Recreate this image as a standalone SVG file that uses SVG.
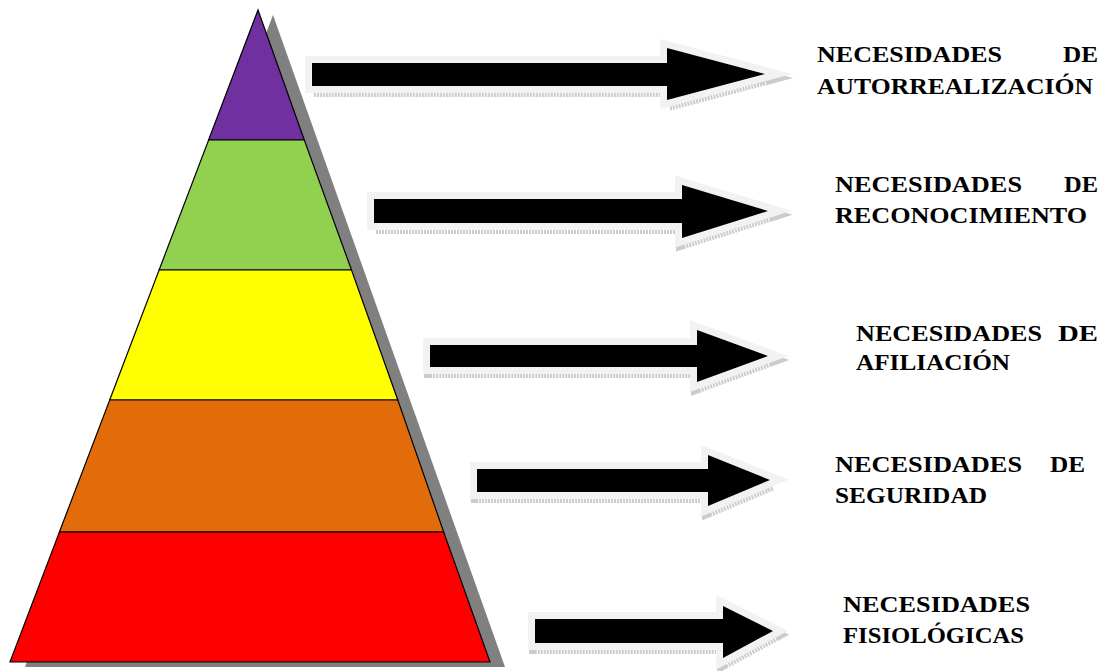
<svg xmlns="http://www.w3.org/2000/svg" width="1111" height="671" viewBox="0 0 1111 671">
<style>
.band{stroke:#000;stroke-width:1.2;stroke-linejoin:miter}
.shadow{fill:#808080}
.arr{fill:#000;stroke:#f2f2f2;stroke-width:14;stroke-linejoin:miter;stroke-miterlimit:10;paint-order:stroke}
.arrsh{fill:none;stroke:#cccccc;stroke-width:14;stroke-linejoin:miter;stroke-miterlimit:10;stroke-dasharray:2 1}
.lbl{font-family:"Liberation Serif","Times New Roman",serif;font-weight:bold;font-size:23px;fill:#000}
</style>
<rect width="1111" height="671" fill="#fff"/>
<g id="pyramid-shadow">
<polygon class="shadow" points="273,15 505,667 25,667"/>
</g>
<g id="level-autorrealizacion"><polygon class="band" fill="#7030A0" points="258,10 304.3,140 208.6,140"/></g>
<g id="level-reconocimiento"><polygon class="band" fill="#92D050" points="208.6,140 304.3,140 351.5,270 159.1,270"/></g>
<g id="level-afiliacion"><polygon class="band" fill="#FFFF00" points="159.1,270 351.5,270 397.8,400 109.7,400"/></g>
<g id="level-seguridad"><polygon class="band" fill="#E36C0A" points="109.7,400 397.8,400 443.7,532 59.4,532"/></g>
<g id="level-fisiologicas"><polygon class="band" fill="#FF0000" points="59.4,532 443.7,532 490,662 10,662"/></g>
<g id="connectors">
<g transform="translate(1,4)">
<polygon class="arrsh" points="312,63 667,63 667,48 765,74 667,100 667,86 312,86"/>
<polygon class="arrsh" points="374,199 682,199 682,185 768,211 682,238 682,223 374,223"/>
<polygon class="arrsh" points="430,345 697,345 697,330 768,356 697,382 697,367 430,367"/>
<polygon class="arrsh" points="477,469 708,469 708,455 770,480 708,506 708,492 477,492"/>
<polygon class="arrsh" points="535,619 723,619 723,606 773,631 723,658 723,643 535,643"/>
</g>
<polygon class="arr" points="312,63 667,63 667,48 765,74 667,100 667,86 312,86"/>
<polygon class="arr" points="374,199 682,199 682,185 768,211 682,238 682,223 374,223"/>
<polygon class="arr" points="430,345 697,345 697,330 768,356 697,382 697,367 430,367"/>
<polygon class="arr" points="477,469 708,469 708,455 770,480 708,506 708,492 477,492"/>
<polygon class="arr" points="535,619 723,619 723,606 773,631 723,658 723,643 535,643"/>
</g>
<g id="label-autorrealizacion">
<text class="lbl" x="817" y="62" textLength="185" lengthAdjust="spacingAndGlyphs">NECESIDADES</text>
<text class="lbl" x="1063" y="62" textLength="35" lengthAdjust="spacingAndGlyphs">DE</text>
<text class="lbl" x="817" y="94" textLength="276" lengthAdjust="spacingAndGlyphs">AUTORREALIZACIÓN</text>
</g>
<g id="label-reconocimiento">
<text class="lbl" x="835" y="192" textLength="187" lengthAdjust="spacingAndGlyphs">NECESIDADES</text>
<text class="lbl" x="1064" y="192" textLength="34" lengthAdjust="spacingAndGlyphs">DE</text>
<text class="lbl" x="835" y="223" textLength="252" lengthAdjust="spacingAndGlyphs">RECONOCIMIENTO</text>
</g>
<g id="label-afiliacion">
<text class="lbl" x="856" y="341" textLength="186" lengthAdjust="spacingAndGlyphs">NECESIDADES</text>
<text class="lbl" x="1058" y="341" textLength="40" lengthAdjust="spacingAndGlyphs">DE</text>
<text class="lbl" x="856" y="370" textLength="154" lengthAdjust="spacingAndGlyphs">AFILIACIÓN</text>
</g>
<g id="label-seguridad">
<text class="lbl" x="835" y="472" textLength="187" lengthAdjust="spacingAndGlyphs">NECESIDADES</text>
<text class="lbl" x="1050" y="472" textLength="35" lengthAdjust="spacingAndGlyphs">DE</text>
<text class="lbl" x="835" y="503" textLength="152" lengthAdjust="spacingAndGlyphs">SEGURIDAD</text>
</g>
<g id="label-fisiologicas">
<text class="lbl" x="843" y="612" textLength="187" lengthAdjust="spacingAndGlyphs">NECESIDADES</text>
<text class="lbl" x="843" y="643" textLength="181" lengthAdjust="spacingAndGlyphs">FISIOLÓGICAS</text>
</g>
</svg>
